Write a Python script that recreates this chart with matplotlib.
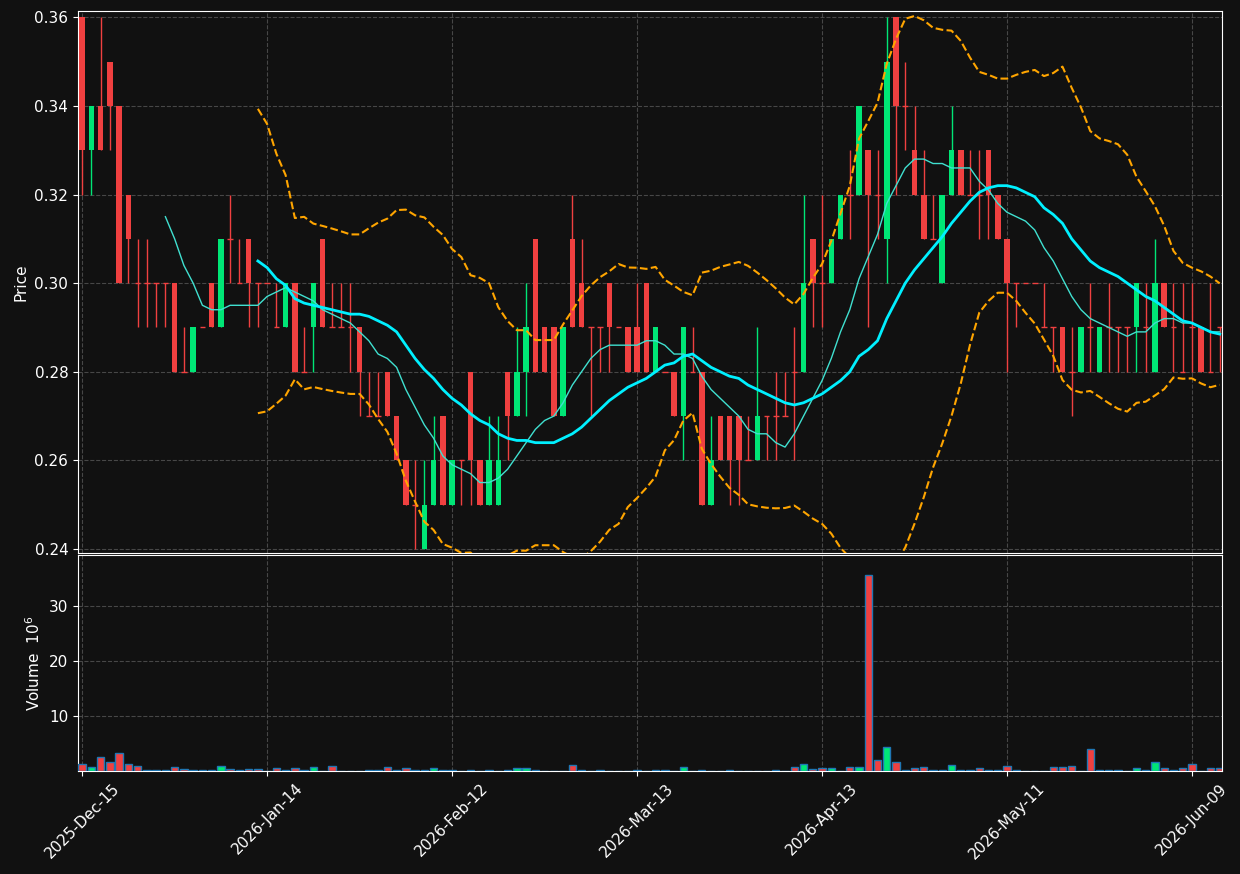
import matplotlib
matplotlib.use("Agg")
import matplotlib.pyplot as plt
import numpy as np
import pandas as pd

opens = [.36,.33,.34,.35,.34,.32,.30,.30,.30,.30,.30,.28,.28,.29,.30,.29,.31,.30,.31,.30,
         .30,.29,.29,.30,.28,.29,.31,.29,.29,.29,.29,.27,.27,.28,.27,.26,.25,.24,.25,.27,
         .25,.26,.28,.26,.25,.25,.28,.27,.28,.31,.29,.29,.27,.31,.30,.29,.29,.30,.29,.29,
         .29,.30,.28,.28,.28,.27,.28,.28,.25,.27,.27,.27,.26,.26,.27,.27,.27,.28,.28,.31,
         .30,.30,.31,.32,.32,.33,.32,.31,.36,.34,.33,.32,.31,.30,.32,.33,.32,.32,.33,.32,
         .31,.30,.30,.30,.29,.29,.29,.28,.28,.29,.28,.29,.29,.29,.29,.29,.28,.30,.29,.28,
         .29,.29,.28,.29]
closes = [.33,.34,.33,.34,.30,.31,.30,.30,.30,.30,.28,.28,.29,.29,.29,.31,.31,.30,.30,.30,
          .30,.29,.30,.28,.28,.30,.29,.29,.29,.29,.28,.27,.27,.27,.26,.25,.25,.25,.26,.25,
          .26,.26,.26,.25,.26,.26,.27,.28,.29,.28,.28,.27,.29,.29,.29,.29,.29,.29,.29,.28,
          .28,.28,.29,.28,.27,.29,.28,.25,.26,.26,.26,.26,.26,.27,.27,.27,.27,.28,.30,.30,
          .30,.31,.32,.32,.34,.32,.32,.35,.34,.34,.32,.31,.31,.32,.33,.32,.32,.32,.32,.31,
          .30,.30,.30,.30,.29,.29,.28,.28,.29,.29,.29,.29,.29,.29,.30,.29,.30,.29,.29,.28,
          .29,.28,.28,.29]
highs = [.36,.34,.36,.35,.34,.32,.31,.31,.30,.30,.30,.29,.29,.29,.30,.31,.32,.31,.31,.30,
         .30,.30,.30,.30,.29,.30,.31,.30,.30,.30,.29,.28,.28,.28,.27,.26,.26,.26,.27,.27,
         .26,.26,.28,.26,.27,.27,.28,.29,.30,.31,.29,.29,.29,.32,.31,.29,.29,.30,.29,.29,
         .30,.30,.29,.28,.28,.29,.29,.28,.27,.27,.27,.27,.27,.29,.27,.28,.28,.29,.32,.31,
         .32,.31,.32,.33,.34,.33,.33,.36,.36,.35,.34,.33,.32,.32,.34,.33,.33,.33,.33,.32,
         .31,.30,.30,.30,.30,.29,.29,.29,.29,.30,.29,.30,.29,.29,.30,.30,.31,.30,.30,.30,
         .30,.29,.30,.29]
lows = [.32,.32,.33,.33,.30,.30,.29,.29,.29,.29,.28,.28,.28,.29,.29,.29,.30,.30,.29,.29,
        .30,.29,.29,.28,.28,.28,.29,.29,.29,.28,.27,.27,.27,.27,.26,.25,.24,.24,.25,.25,
        .25,.25,.25,.25,.25,.25,.26,.27,.27,.28,.28,.27,.27,.29,.29,.27,.28,.28,.29,.28,
        .28,.28,.28,.28,.27,.26,.28,.25,.25,.26,.25,.25,.26,.26,.26,.26,.27,.26,.28,.29,
        .29,.30,.31,.31,.32,.29,.31,.30,.32,.33,.32,.31,.31,.30,.32,.32,.32,.31,.31,.31,
        .28,.29,.30,.30,.29,.28,.28,.27,.28,.28,.28,.28,.28,.28,.28,.28,.28,.29,.28,.28,
        .28,.28,.28,.28]
volumes = [1.3,0.7,2.5,1.7,3.3,1.3,0.9,0.2,0.2,0.2,0.7,0.4,0.2,0.2,0.2,0.9,0.3,0.1,0.3,0.3,
           0.05,0.5,0.2,0.5,0.2,0.7,0.05,0.9,0.05,0.05,0.05,0.2,0.2,0.7,0.2,0.5,0.2,0.1,0.5,0.1,
           0.2,0.05,0.2,0.05,0.2,0.05,0.2,0.5,0.5,0.2,0.05,0.05,0.05,1.1,0.2,0.05,0.2,0.05,0.05,0.05,
           0.2,0.05,0.2,0.2,0.05,0.7,0.05,0.2,0.05,0.05,0.2,0.05,0.05,0.05,0.05,0.2,0.05,0.7,1.3,0.3,
           0.5,0.5,0.05,0.7,0.7,35.6,2.0,4.3,1.7,0.2,0.5,0.7,0.2,0.2,1.1,0.2,0.2,0.5,0.2,0.2,
           0.9,0.2,0.05,0.05,0.05,0.7,0.7,0.9,0.05,4.0,0.2,0.2,0.2,0.05,0.5,0.2,1.7,0.5,0.2,0.5,
           1.3,0.05,0.5,0.5]
tick_positions = [0, 20, 40, 60, 80, 100, 120]
tick_labels = ["2025-Dec-15", "2026-Jan-14", "2026-Feb-12", "2026-Mar-13",
               "2026-Apr-13", "2026-May-11", "2026-Jun-09"]

BG = "#111111"
UP = "#00e676"
DOWN = "#f04040"

o = np.array(opens); c = np.array(closes); h = np.array(highs); l = np.array(lows)
v = np.array(volumes)
x = np.arange(len(o))
cs = pd.Series(c)
ma10 = cs.rolling(10).mean()
ma20 = cs.rolling(20).mean()
sd20 = cs.rolling(20).std(ddof=0)
upper = ma20 + 2 * sd20
lower = ma20 - 2 * sd20

fig = plt.figure(figsize=(12.4, 8.74), dpi=100, facecolor=BG)
ax = fig.add_axes([0.0629, 0.3673, 0.9226, 0.620])
axv = fig.add_axes([0.0629, 0.1178, 0.9226, 0.2471], sharex=ax)

for a in (ax, axv):
    a.set_facecolor(BG)
    for s in a.spines.values():
        s.set_color("white")
    a.tick_params(colors="white", labelsize=11)
    a.grid(True, color="#555555", linestyle="--", linewidth=0.8, alpha=0.8)
    a.set_axisbelow(True)

up = c > o
colors = np.where(up, UP, DOWN)
ax.vlines(x, l, h, colors=colors, linewidth=1, zorder=2)
body_bottom = np.minimum(o, c)
body_h = np.abs(c - o)
ax.bar(x, body_h, bottom=body_bottom, width=0.6, color=colors, zorder=3)
flat = body_h == 0
ax.hlines(c[flat], x[flat] - 0.3, x[flat] + 0.3, colors=colors[flat], linewidth=1, zorder=3)

ax.plot(x, ma10, color="#40e0d0", linewidth=1, zorder=4)
ax.plot(x, ma20, color="#00f0ff", linewidth=2, zorder=4)
ax.plot(x, upper, color="orange", linestyle="--", linewidth=1.5, zorder=4)
ax.plot(x, lower, color="orange", linestyle="--", linewidth=1.5, zorder=4)

ax.set_ylim(0.2391, 0.3614)
ax.set_xlim(-0.45, 123.25)
ax.set_yticks([0.24, 0.26, 0.28, 0.30, 0.32, 0.34, 0.36])
ax.yaxis.set_major_formatter(matplotlib.ticker.FormatStrFormatter("%.2f"))
ax.set_ylabel("Price", color="white", fontsize=11)
plt.setp(ax.get_xticklabels(), visible=False)
ax.tick_params(axis="x", length=0)

axv.bar(x, v, width=0.8, color=colors, edgecolor="#1f77b4", linewidth=1, zorder=3)
axv.set_ylim(0, 39.3)
axv.set_yticks([10, 20, 30])
axv.set_ylabel("Volume  $10^6$", color="white", fontsize=11)
axv.set_xticks(tick_positions)
axv.set_xticklabels(tick_labels, rotation=45, ha="center")

fig.savefig("out.png", dpi=100, facecolor=BG)
